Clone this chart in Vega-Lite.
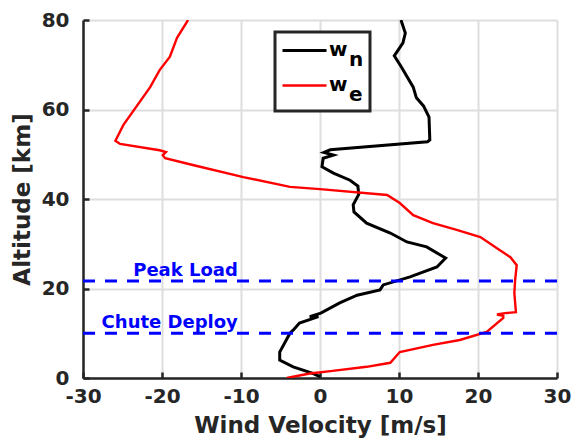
{
  "$schema": "https://vega.github.io/schema/vega-lite/v6.json",
  "width": 474,
  "height": 358,
  "autosize": {"type": "none"},
  "padding": {"left": 83, "top": 20, "right": 20, "bottom": 68},
  "background": "white",
  "config": {
    "view": {"stroke": null},
    "font": "DejaVu Sans",
    "axis": {
      "domainColor": "#262626",
      "domainWidth": 2.5,
      "ticks": true,
      "tickColor": "#262626",
      "tickWidth": 2.5,
      "tickSize": -6,
      "tickOpacity": 1,
      "labelFont": "DejaVu Sans",
      "labelFontWeight": "bold",
      "labelFontSize": 20,
      "labelColor": "#262626",
      "labelFlush": false,
      "titleFont": "DejaVu Sans",
      "titleFontWeight": "bold",
      "titleFontSize": 23,
      "titleColor": "#262626",
      "gridColor": "#dedede",
      "gridWidth": 2
    },
    "legend": {
      "orient": "none",
      "legendX": 192,
      "legendY": 12,
      "strokeColor": "#262626",
      "strokeWidth": 3,
      "fillColor": "white",
      "padding": 6,
      "labelFont": "DejaVu Sans",
      "labelFontWeight": "bold",
      "labelFontSize": 20,
      "labelColor": "#000000",
      "symbolType": "M-1,0H3",
      "symbolSize": 484,
      "symbolStrokeWidth": 3,
      "labelOffset": 23,
      "rowPadding": 3
    }
  },
  "datasets": {
    "wind": [
      {"series": "wn", "v": 10.25, "alt": 80},
      {"series": "wn", "v": 10.8, "alt": 77.1},
      {"series": "wn", "v": 10.5, "alt": 74.9},
      {"series": "wn", "v": 9.4, "alt": 72},
      {"series": "wn", "v": 10.3, "alt": 69.5},
      {"series": "wn", "v": 11.8, "alt": 65},
      {"series": "wn", "v": 12.2, "alt": 62.6},
      {"series": "wn", "v": 13.1, "alt": 60.8},
      {"series": "wn", "v": 13.8, "alt": 58.3},
      {"series": "wn", "v": 13.9, "alt": 53.2},
      {"series": "wn", "v": 13.6, "alt": 52.8},
      {"series": "wn", "v": 1.3, "alt": 51.0},
      {"series": "wn", "v": 0.5, "alt": 50.4},
      {"series": "wn", "v": 1.7, "alt": 49.8},
      {"series": "wn", "v": 0.4, "alt": 49.1},
      {"series": "wn", "v": 0.25, "alt": 47.2},
      {"series": "wn", "v": 1.7, "alt": 45.8},
      {"series": "wn", "v": 3.8, "alt": 44.2},
      {"series": "wn", "v": 4.8, "alt": 42.9},
      {"series": "wn", "v": 4.9, "alt": 41.0},
      {"series": "wn", "v": 4.2, "alt": 38.7},
      {"series": "wn", "v": 4.3, "alt": 37.1},
      {"series": "wn", "v": 5.9, "alt": 34.6},
      {"series": "wn", "v": 8.9, "alt": 32.4},
      {"series": "wn", "v": 11.0, "alt": 30.4},
      {"series": "wn", "v": 13.5, "alt": 29.3},
      {"series": "wn", "v": 15.9, "alt": 26.8},
      {"series": "wn", "v": 14.8, "alt": 24.8},
      {"series": "wn", "v": 11.4, "alt": 22.6},
      {"series": "wn", "v": 8.0, "alt": 20.8},
      {"series": "wn", "v": 7.6, "alt": 19.7},
      {"series": "wn", "v": 4.7, "alt": 18.5},
      {"series": "wn", "v": 2.5, "alt": 16.8},
      {"series": "wn", "v": 0.1, "alt": 14.5},
      {"series": "wn", "v": -0.2, "alt": 13.7},
      {"series": "wn", "v": -1.3, "alt": 13.7},
      {"series": "wn", "v": -2.6, "alt": 12.3},
      {"series": "wn", "v": -3.4, "alt": 10.7},
      {"series": "wn", "v": -3.8, "alt": 10.0},
      {"series": "wn", "v": -5.1, "alt": 5.8},
      {"series": "wn", "v": -5.1, "alt": 4.0},
      {"series": "wn", "v": -3.4, "alt": 2.5},
      {"series": "wn", "v": -1.0, "alt": 1.1},
      {"series": "wn", "v": 0.0, "alt": 0.3},
      {"series": "we", "v": -16.7, "alt": 80},
      {"series": "we", "v": -18.1, "alt": 76},
      {"series": "we", "v": -19.0, "alt": 71.8},
      {"series": "we", "v": -20.3, "alt": 68.8},
      {"series": "we", "v": -21.5, "alt": 65},
      {"series": "we", "v": -24.9, "alt": 56.5},
      {"series": "we", "v": -25.9, "alt": 53},
      {"series": "we", "v": -25.3, "alt": 52.3},
      {"series": "we", "v": -20.3, "alt": 50.9},
      {"series": "we", "v": -19.5, "alt": 50.5},
      {"series": "we", "v": -19.9, "alt": 49.8},
      {"series": "we", "v": -19.6, "alt": 49.1},
      {"series": "we", "v": -16.1, "alt": 47.6},
      {"series": "we", "v": -9.7, "alt": 44.9},
      {"series": "we", "v": -3.8, "alt": 42.7},
      {"series": "we", "v": 0.0, "alt": 42.2},
      {"series": "we", "v": 8.5, "alt": 40.9},
      {"series": "we", "v": 10.1, "alt": 39.1},
      {"series": "we", "v": 11.8, "alt": 36.4},
      {"series": "we", "v": 14.3, "alt": 34.6},
      {"series": "we", "v": 17.3, "alt": 33.1},
      {"series": "we", "v": 20.3, "alt": 31.5},
      {"series": "we", "v": 22.4, "alt": 29},
      {"series": "we", "v": 24.1, "alt": 27},
      {"series": "we", "v": 24.9, "alt": 25.2},
      {"series": "we", "v": 24.7, "alt": 21.9},
      {"series": "we", "v": 24.6, "alt": 19},
      {"series": "we", "v": 24.8, "alt": 14.7},
      {"series": "we", "v": 23.4, "alt": 14.5},
      {"series": "we", "v": 22.4, "alt": 14.2},
      {"series": "we", "v": 23.2, "alt": 13.9},
      {"series": "we", "v": 23.2, "alt": 13.4},
      {"series": "we", "v": 21.1, "alt": 10.3},
      {"series": "we", "v": 17.7, "alt": 8.5},
      {"series": "we", "v": 14.3, "alt": 7.4},
      {"series": "we", "v": 10.1, "alt": 5.8},
      {"series": "we", "v": 8.9, "alt": 3.4},
      {"series": "we", "v": 5.9, "alt": 2.5},
      {"series": "we", "v": 1.6, "alt": 1.6},
      {"series": "we", "v": -1.3, "alt": 1.0},
      {"series": "we", "v": -4.2, "alt": 0}
    ],
    "events": [
      {"event": "Peak Load", "alt": 21.7},
      {"event": "Chute Deploy", "alt": 10}
    ]
  },
  "layer": [
    {
      "data": {"name": "wind"},
      "mark": {"type": "line", "clip": true},
      "encoding": {
        "x": {
          "field": "v",
          "type": "quantitative",
          "scale": {"domain": [-30, 30], "nice": false},
          "axis": {
            "title": "Wind Velocity [m/s]",
            "values": [-30, -20, -10, 0, 10, 20, 30],
            "labelExpr": "datum.value + ''",
            "labelPadding": 14,
            "titlePadding": 8
          }
        },
        "y": {
          "field": "alt",
          "type": "quantitative",
          "scale": {"domain": [0, 80], "nice": false},
          "axis": {
            "title": "Altitude [km]",
            "values": [0, 20, 40, 60, 80],
            "labelExpr": "datum.value + ''",
            "labelPadding": 20,
            "titlePadding": 7
          }
        },
        "order": {"field": "alt", "type": "quantitative"},
        "color": {
          "field": "series",
          "type": "nominal",
          "scale": {"domain": ["wn", "we"], "range": ["#000000", "#ff0000"]},
          "legend": {
            "title": null,
            "labelExpr": "['w', '\u200b\u2003' + substring(datum.label, 1)]",
            "encode": {
              "labels": {
                "update": {
                  "lineHeight": {"value": 10},
                  "baseline": {"value": "alphabetic"},
                  "dy": {"value": 5}
                }
              }
            }
          }
        },
        "strokeWidth": {
          "field": "series",
          "type": "nominal",
          "scale": {"domain": ["wn", "we"], "range": [3, 2.4]},
          "legend": null
        }
      }
    },
    {
      "data": {"name": "events"},
      "mark": {"type": "rule", "color": "#0000ff", "strokeWidth": 3, "strokeDash": [12, 10]},
      "encoding": {
        "y": {"field": "alt", "type": "quantitative"}
      }
    },
    {
      "data": {"name": "events"},
      "mark": {
        "type": "text",
        "color": "#0000ff",
        "font": "DejaVu Sans",
        "fontWeight": "bold",
        "fontSize": 18,
        "align": "right",
        "baseline": "alphabetic",
        "dy": -5
      },
      "encoding": {
        "x": {"datum": -10.4},
        "y": {"field": "alt", "type": "quantitative"},
        "text": {"field": "event"}
      }
    }
  ]
}
